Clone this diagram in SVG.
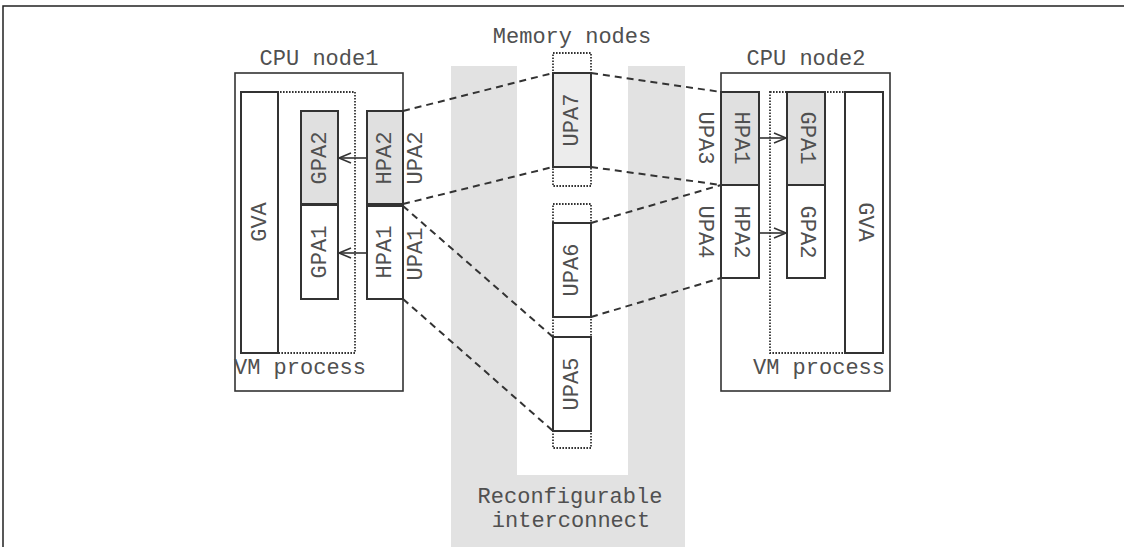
<svg xmlns="http://www.w3.org/2000/svg" width="1124" height="547" viewBox="0 0 1124 547">
<style>
  text { font-family: "Liberation Mono", "Courier New", monospace; font-size: 22px; fill: #505050; }
  .c { text-anchor: middle; dominant-baseline: central; }
  .box { fill: #fff; stroke: #333; stroke-width: 2; }
  .gbox { fill: #e0e0e0; stroke: #333; stroke-width: 2; }
  .lbox { fill: #ececec; stroke: #333; stroke-width: 2; }
  .outer { fill: #fff; stroke: #333; stroke-width: 1.6; }
  .dot { fill: none; stroke: #333; stroke-width: 1.8; stroke-dasharray: 1.6 1.4; }
  .dash { fill: none; stroke: #333; stroke-width: 2; stroke-dasharray: 7 5; }
  .arr { fill: none; stroke: #333; stroke-width: 1.6; marker-end: url(#chev); }
</style>
<defs>
  <marker id="chev" markerUnits="userSpaceOnUse" markerWidth="14" markerHeight="12" refX="12" refY="6" orient="auto" overflow="visible">
    <path d="M0,1 L12,6 L0,11" fill="none" stroke="#333" stroke-width="1.6"/>
  </marker>
</defs>
<rect width="1124" height="547" fill="#fff"/>
<path d="M3,547 V6 H1124" fill="none" stroke="#222" stroke-width="1.5"/>

<g id="interconnect">
  <path d="M451,66 H517 V475 H628 V66 H685 V547 H451 Z" fill="#e2e2e2"/>
  <text x="570" y="503" text-anchor="middle">Reconfigurable</text>
  <text x="571" y="527" text-anchor="middle">interconnect</text>
</g>

<g id="cpu1">
  <rect class="outer" x="235" y="73" width="168" height="318"/>
  <text x="319" y="65" text-anchor="middle">CPU node1</text>
  <rect class="dot" x="241" y="92" width="114" height="261"/>
  <text x="234" y="374">VM process</text>
  <g id="gva1"><rect class="box" x="241" y="92" width="37" height="261"/><text class="c" transform="rotate(-90 260 222)" x="260" y="222">GVA</text></g>
  <g id="gpa2-1"><rect class="gbox" x="301" y="111" width="37" height="93"/><text class="c" transform="rotate(-90 320 158)" x="320" y="158">GPA2</text></g>
  <g id="gpa1-1"><rect class="box" x="301" y="205" width="37" height="94"/><text class="c" transform="rotate(-90 320 252)" x="320" y="252">GPA1</text></g>
  <g id="hpa2-1"><rect class="gbox" x="367" y="111" width="36" height="93"/><text class="c" transform="rotate(-90 385 158)" x="385" y="158">HPA2</text></g>
  <g id="hpa1-1"><rect class="box" x="367" y="206" width="36" height="93"/><text class="c" transform="rotate(-90 385 252)" x="385" y="252">HPA1</text></g>
  <text class="c" transform="rotate(-90 416 158)" x="416" y="158">UPA2</text>
  <text class="c" transform="rotate(-90 416 254)" x="416" y="254">UPA1</text>
</g>

<g id="memory">
  <text x="572" y="43" text-anchor="middle">Memory nodes</text>
  <rect class="dot" x="553" y="53" width="38" height="133"/>
  <rect class="dot" x="553" y="204" width="38" height="244"/>
  <g id="upa7"><rect class="lbox" x="553" y="73" width="38" height="94"/><text class="c" transform="rotate(-90 572 120)" x="572" y="120">UPA7</text></g>
  <g id="upa6"><rect class="box" x="553" y="223" width="38" height="94"/><text class="c" transform="rotate(-90 572 270)" x="572" y="270">UPA6</text></g>
  <g id="upa5"><rect class="box" x="553" y="337" width="38" height="94"/><text class="c" transform="rotate(-90 572 384)" x="572" y="384">UPA5</text></g>
</g>

<g id="cpu2">
  <rect class="outer" x="721" y="73" width="169" height="318"/>
  <text x="806" y="65" text-anchor="middle">CPU node2</text>
  <rect class="dot" x="770" y="92" width="113" height="261"/>
  <text x="753" y="374">VM process</text>
  <g id="hpa1-2"><rect class="gbox" x="721" y="92" width="38" height="93"/><text class="c" transform="rotate(90 740 138)" x="740" y="138">HPA1</text></g>
  <g id="hpa2-2"><rect class="box" x="721" y="185" width="38" height="93"/><text class="c" transform="rotate(90 740 232)" x="740" y="232">HPA2</text></g>
  <g id="gpa1-2"><rect class="gbox" x="787" y="92" width="38" height="93"/><text class="c" transform="rotate(90 806 138)" x="806" y="138">GPA1</text></g>
  <g id="gpa2-2"><rect class="box" x="787" y="185" width="38" height="93"/><text class="c" transform="rotate(90 806 232)" x="806" y="232">GPA2</text></g>
  <g id="gva2"><rect class="box" x="845" y="92" width="38" height="261"/><text class="c" transform="rotate(90 864 222)" x="864" y="222">GVA</text></g>
  <text class="c" transform="rotate(90 704 138)" x="704" y="138">UPA3</text>
  <text class="c" transform="rotate(90 704 232)" x="704" y="232">UPA4</text>
</g>

<g id="connectors">
  <line class="arr" x1="367" y1="158" x2="339" y2="158"/>
  <line class="arr" x1="367" y1="253" x2="339" y2="253"/>
  <line class="arr" x1="759" y1="138" x2="786" y2="138"/>
  <line class="arr" x1="759" y1="233" x2="786" y2="233"/>
  <line class="dash" x1="403" y1="111" x2="553" y2="73"/>
  <line class="dash" x1="403" y1="204" x2="553" y2="167"/>
  <line class="dash" x1="403" y1="206" x2="553" y2="337"/>
  <line class="dash" x1="403" y1="299" x2="553" y2="431"/>
  <line class="dash" x1="591" y1="73" x2="721" y2="92"/>
  <line class="dash" x1="591" y1="167" x2="721" y2="185"/>
  <line class="dash" x1="591" y1="223" x2="721" y2="185"/>
  <line class="dash" x1="591" y1="317" x2="721" y2="278"/>
</g>
</svg>
